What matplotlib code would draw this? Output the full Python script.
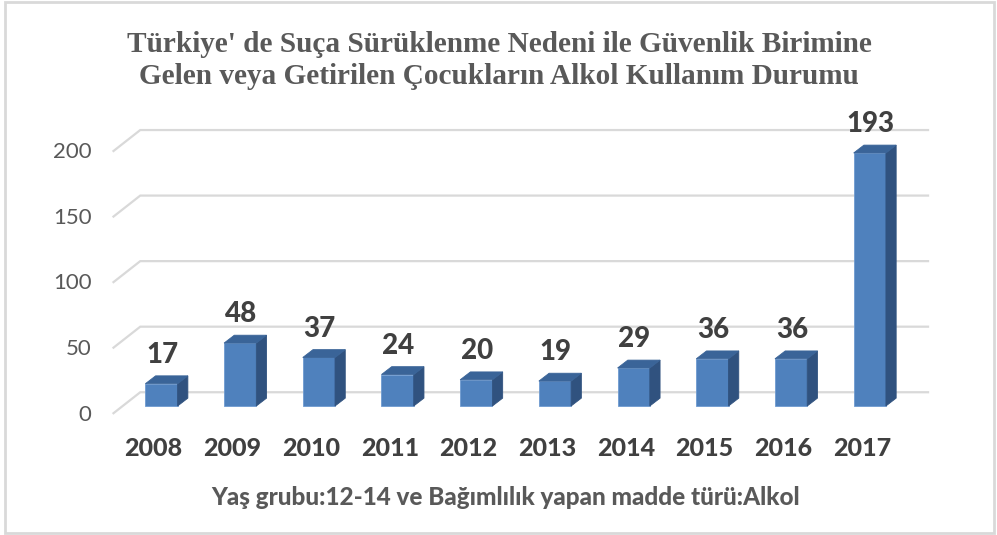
import matplotlib
matplotlib.use("Agg")
import matplotlib.pyplot as plt
from matplotlib.patches import Polygon, Rectangle

years = ["2008", "2009", "2010", "2011", "2012", "2013", "2014", "2015", "2016", "2017"]
counts = [17, 48, 37, 24, 20, 19, 29, 36, 36, 193]
yticks = [0, 50, 100, 150, 200]

title_lines = ["Türkiye' de Suça Sürüklenme Nedeni ile Güvenlik Birimine",
               "Gelen veya Getirilen Çocukların Alkol Kullanım Durumu"]
xlabel = "Yaş grubu:12-14 ve Bağımlılık yapan madde türü:Alkol"

FRONT = "#4F81BD"
SIDE = "#30527F"
TOP = "#3A6498"
GRID = "#D9D9D9"
TXT = "#404040"

# 3d look: bar half width, depth offsets (category units / value units)
hw = 0.205
ddx, ddy = 0.13, 6.0
back_dy = 10.5          # back wall is raised a bit
front_dx, front_dy = -0.34, -16.0   # floor edge, front-left end of gridline

W, H = 997, 535
px_x = 78.7             # pixels per category
px_y = 1.311            # pixels per value unit
x0_px, y0_px = 161.5, H - 406

fig = plt.figure(figsize=(W / 100, H / 100), dpi=100)
ax = fig.add_axes([0, 0, 1, 1])
ax.set_xlim(-x0_px / px_x, (W - x0_px) / px_x)
ax.set_ylim(-y0_px / px_y, (H - y0_px) / px_y)
ax.axis("off")

# chart border
fig.patches.append(Rectangle((5 / W, 2 / H), 989 / W, 531 / H, transform=fig.transFigure,
                             fill=False, edgecolor=GRID, lw=2))

n = len(years)
gx0, gx1 = -0.27, n - 1 + 0.74
for v in yticks:
    yb = v + back_dy
    ax.plot([gx0 + front_dx, gx0, gx1], [yb + front_dy, yb, yb], color=GRID, lw=1.6,
            solid_joinstyle="miter", zorder=1)
    ax.text(gx0 + front_dx - 0.28, yb + front_dy - 1, str(v), ha="right", va="center",
            fontsize=16, color="#595959", family="Lato")

for i, (yr, c) in enumerate(zip(years, counts)):
    l, r = i - hw, i + hw
    ax.add_patch(Polygon([(l, 0), (r, 0), (r, c), (l, c)], closed=True,
                         facecolor=FRONT, edgecolor="#6F9BD0", lw=0.6, zorder=3))
    ax.add_patch(Polygon([(r, 0), (r + ddx, ddy), (r + ddx, c + ddy), (r, c)], closed=True,
                         facecolor=SIDE, edgecolor=SIDE, lw=0.6, zorder=3))
    ax.add_patch(Polygon([(l, c), (r, c), (r + ddx, c + ddy), (l + ddx, c + ddy)], closed=True,
                         facecolor=TOP, edgecolor=TOP, lw=0.6, zorder=3))
    ax.text(i + 0.01, c + 16, str(c), ha="center", va="baseline", fontsize=20,
            fontweight="black", color=TXT, family="Lato")
    ax.text(i - 0.1, -38, yr, ha="center", va="baseline", fontsize=18,
            fontweight="black", color=TXT, family="Lato")

fig.text(506 / W, 1 - 505 / H, xlabel, ha="center", va="baseline", fontsize=17.5,
         fontweight="black", color="#595959", family="Lato")
for k, line in enumerate(title_lines):
    fig.text(499 / W, 1 - (52 + 31.5 * k) / H, line, ha="center", va="baseline", fontsize=21.1,
             fontweight="bold", color="#595959", family="Liberation Serif")

fig.savefig("out.png", dpi=100)
